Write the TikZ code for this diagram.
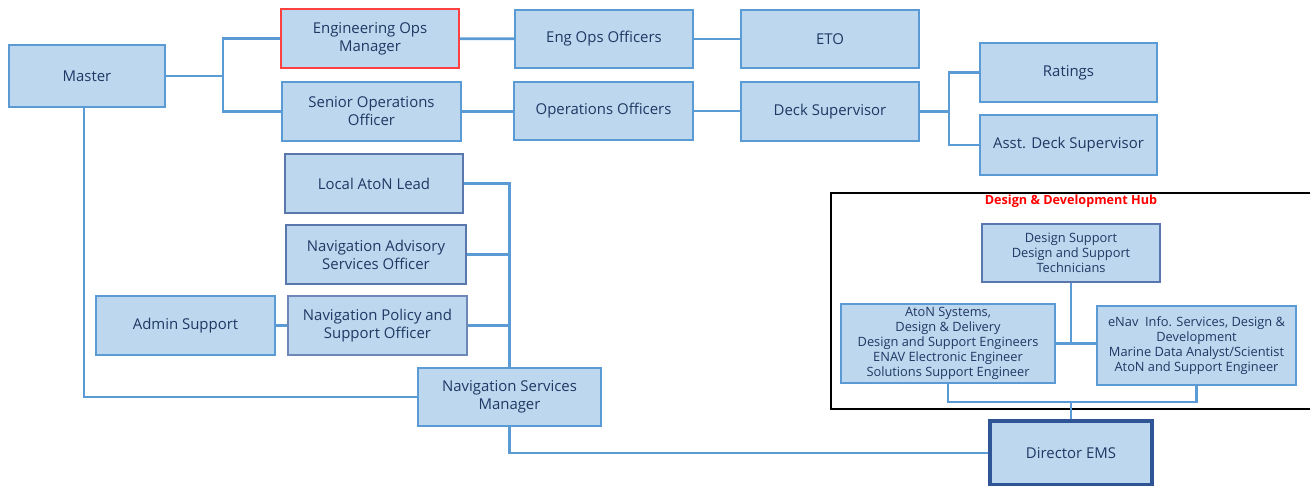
\documentclass[tikz,border=0pt]{standalone}
\usepackage{fontspec}
\setmainfont{Open Sans}
\usepackage{tikz}
\usetikzlibrary{shapes,positioning}
\definecolor{boxfill}{RGB}{189,215,238}
\definecolor{boxline}{RGB}{91,155,213}
\definecolor{boxdark}{RGB}{47,85,151}
\definecolor{boxtext}{RGB}{31,56,100}
\definecolor{hubred}{RGB}{255,0,0}
\begin{document}
\begin{tikzpicture}[x=0.02cm, y=-0.02cm,
    box/.style={rectangle, draw=boxline, line width=1pt, fill=boxfill, text=boxtext, align=center, inner sep=1pt, font=\fontsize{8.5}{10.2}\selectfont, minimum width=3.56cm, minimum height=1.17cm},
    darkbox/.style={box, draw=boxdark!80},
    hubbox/.style={box, font=\fontsize{7.3}{8.5}\selectfont},
    link/.style={draw=boxline, line width=1.5pt}]
  \useasboundingbox (0,0) rectangle (1310,485);
  \node [box, minimum width=3.12cm, minimum height=1.24cm] (master) at (87,76) {Master};
  \node [box, draw=red!75] (engmgr) at (370,38.5) {Engineering Ops\\Manager};
  \node [box, minimum width=3.58cm] (senior) at (371.5,111.5) {Senior Operations\\Officer};
  \node [box] (engoff) at (604,39) {Eng Ops Officers};
  \node [box] (eto) at (830,39) {ETO};
  \node [box, minimum width=3.58cm] (opsoff) at (603.5,111) {Operations Officers};
  \node [box] (deck) at (830,111.5) {Deck Supervisor};
  \node [box, minimum width=3.54cm] (ratings) at (1068.5,72.5) {Ratings};
  \node [box, minimum width=3.54cm, minimum height=1.2cm] (asst) at (1068.5,145) {Asst. Deck Supervisor};
  \node [darkbox] (aton) at (374,183.5) {Local AtoN Lead};
  \node [darkbox, minimum width=3.6cm] (advisory) at (376,254.5) {Navigation Advisory\\Services Officer};
  \node [box, minimum width=3.58cm] (admin) at (185.5,325.5) {Admin Support};
  \node [box, draw=boxdark!70, minimum width=3.58cm] (policy) at (377.5,325.5) {Navigation Policy and\\Support Officer};
  \node [box, minimum width=3.66cm, minimum height=1.16cm] (navmgr) at (509.5,397) {Navigation Services\\Manager};
  \node [box, draw=boxdark, line width=1.8pt, minimum width=3.24cm, minimum height=1.28cm] (director) at (1071,453) {Director EMS};
  \draw [black, line width=0.8pt] (831,193) rectangle (1316,409);
  \node [text=hubred, font=\bfseries\fontsize{7.2}{8.5}\selectfont] (hubtitle) at (1071,201) {Design \& Development Hub};
  \node [hubbox, draw=boxdark!80] (design) at (1071,253) {Design Support\\Design and Support\\Technicians};
  \node [hubbox, minimum width=4.28cm, minimum height=1.58cm] (atonsys) at (948,343.5) {AtoN Systems,\\Design \& Delivery\\Design and Support Engineers\\ENAV Electronic Engineer\\Solutions Support Engineer};
  \node [hubbox, minimum width=3.98cm, minimum height=1.58cm] (enav) at (1196.5,345.5) {eNav\ \ Info. Services, Design \&\\Development\\Marine Data Analyst/Scientist\\AtoN and Support Engineer};
  \coordinate (hubjoin) at (1071,402);
  \draw [link] (master.east) -- ++(57,0) coordinate (masterjoin);
  \draw [link] (masterjoin) |- (engmgr.west);
  \draw [link] (masterjoin) |- (senior.west);
  \draw [link] (engmgr) -- (engoff);
  \draw [link] (engoff) -- (eto);
  \draw [link] (senior.east) -- (opsoff.west |- senior.east);
  \draw [link] (opsoff.east) -- (deck.west |- opsoff.east);
  \draw [link] (deck.east) -- ++(29,0) coordinate (deckjoin);
  \draw [link] (deckjoin) |- (ratings.west);
  \draw [link] (deckjoin) |- (asst.west);
  \draw [link] (master.south) ++(-3,0) |- (navmgr.west);
  \draw [link] (aton.east) -| (navmgr.north);
  \draw [link] (advisory.east) -| (navmgr.north);
  \draw [link] (policy.east) -| (navmgr.north);
  \draw [link] (admin) -- (policy);
  \draw [link] (navmgr.south) |- (director.west);
  \draw [link] (design.south) -- (design.south |- atonsys.east);
  \draw [link] (atonsys.east) -- (atonsys.east -| enav.west);
  \draw [link] (atonsys.south) |- (hubjoin) -| (enav.south);
  \draw [link] (director.north) -- (hubjoin);
\end{tikzpicture}
\end{document}
